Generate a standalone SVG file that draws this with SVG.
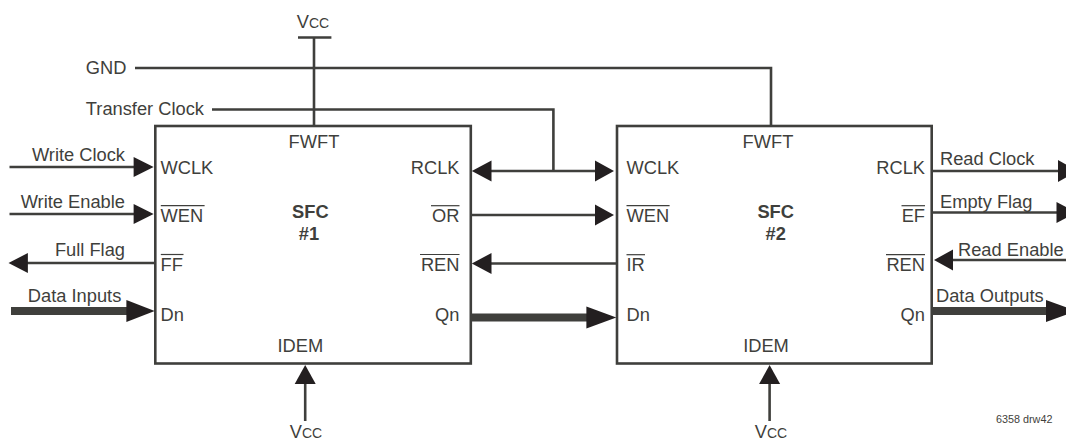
<svg xmlns="http://www.w3.org/2000/svg" width="1066" height="442" viewBox="0 0 1066 442">
<style>
text{font-family:"Liberation Sans",Arial,sans-serif;font-size:18.3px;fill:#3f3f3c}
.m{text-anchor:middle}.e{text-anchor:end}
.b{font-weight:bold}
.s{font-size:14px}
.t{font-size:10.8px}
.box{fill:#fff;stroke:#3f3f3c;stroke-width:2.6}
.w{fill:none;stroke:#3f3f3c;stroke-width:2.6}
.k{fill:none;stroke:#3f3f3c;stroke-width:8}
.o{stroke:#3f3f3c;stroke-width:1.2}
.h{fill:#231f20}
</style>
<g id="node-sfc1">
<rect class="box" x="155.300" y="126" width="315.500" height="237.500"/>
<text class="m" x="314" y="148">FWFT</text>
<text x="160.500" y="174">WCLK</text>
<text x="160.500" y="221.500">WEN</text><line class="o" x1="160.800" y1="205.700" x2="204.600" y2="205.700"/>
<text x="160.500" y="271">FF</text><line class="o" x1="160.800" y1="254.500" x2="183.500" y2="254.500"/>
<text x="160.500" y="321">Dn</text>
<text class="e" x="459.500" y="174">RCLK</text>
<text class="e" x="459.500" y="221.500">OR</text><line class="o" x1="431" y1="205.700" x2="459.500" y2="205.700"/>
<text class="e" x="459.500" y="271">REN</text><line class="o" x1="420" y1="254.500" x2="459.500" y2="254.500"/>
<text class="e" x="459.500" y="321">Qn</text>
<text class="m" x="300.300" y="352">IDEM</text>
<text class="m b" x="310.300" y="218">SFC</text>
<text class="m b" x="309" y="240">#1</text>
</g>
<g id="node-sfc2">
<rect class="box" x="617" y="126" width="314.700" height="237.500"/>
<text class="m" x="768" y="148">FWFT</text>
<text x="626.500" y="174">WCLK</text>
<text x="626.500" y="221.500">WEN</text><line class="o" x1="626.500" y1="205.700" x2="669.600" y2="205.700"/>
<text x="626.500" y="271">IR</text><line class="o" x1="626.500" y1="254.700" x2="645" y2="254.700"/>
<text x="626.500" y="321">Dn</text>
<text class="e" x="925" y="174">RCLK</text>
<text class="e" x="925" y="221.500">EF</text><line class="o" x1="901.500" y1="205.700" x2="925" y2="205.700"/>
<text class="e" x="925" y="271">REN</text><line class="o" x1="886" y1="254.700" x2="925" y2="254.700"/>
<text class="e" x="925" y="321">Qn</text>
<text class="m" x="766" y="352">IDEM</text>
<text class="m b" x="775.700" y="218">SFC</text>
<text class="m b" x="775.700" y="240">#2</text>
</g>
<g id="connectors">
<path class="w" d="M298 37.500H331.400M314 37.500V126"/>
<path class="w" d="M135 68H771V126"/>
<path class="w" d="M212 109.500H553.400V171"/>
<path class="w" d="M9.500 167H138"/>
<path class="h" d="M153.600 167L133.600 157V177Z"/>
<path class="w" d="M9.500 214H138"/>
<path class="h" d="M153.600 214L133.600 204V224Z"/>
<path class="w" d="M24 263H155"/>
<path class="h" d="M8.500 263L27.900 253V273Z"/>
<path class="k" d="M11 311H130"/>
<path class="h" d="M154.700 311L126.400 300V322Z"/>
<path class="w" d="M488 171H599"/>
<path class="h" d="M471.800 171L491.500 160.500V181.500Z"/>
<path class="h" d="M614 171L595 160.500V181.500Z"/>
<path class="w" d="M471 215H599"/>
<path class="h" d="M614 215L595 204.500V225.500Z"/>
<path class="w" d="M488 263.500H617"/>
<path class="h" d="M471.800 263.500L491.500 253V274Z"/>
<path class="k" d="M471 317.500H590"/>
<path class="h" d="M616.300 317.500L586.400 306.500V328.500Z"/>
<path class="w" d="M305.200 380V421"/>
<path class="h" d="M305.200 365L294.700 384H315.700Z"/>
<path class="w" d="M769.600 380V421"/>
<path class="h" d="M769.600 365L759.100 384H780.100Z"/>
<path class="w" d="M931.700 171H1062"/>
<path class="h" d="M1078 171L1058 160V182Z"/>
<path class="w" d="M931.700 212.500H1060"/>
<path class="h" d="M1076 212.500L1056.500 202V223Z"/>
<path class="w" d="M950 260H1066"/>
<path class="h" d="M934 260L953 249.500V270.500Z"/>
<path class="k" d="M931.700 311H1050"/>
<path class="h" d="M1076 311L1046 300V322Z"/>
</g>
<g id="labels">
<text x="296.700" y="28">V<tspan class="s">CC</tspan></text>
<text class="e" x="126.400" y="74">GND</text>
<text class="e" x="204" y="115">Transfer Clock</text>
<text class="e" x="125" y="161">Write Clock</text>
<text class="e" x="125" y="208">Write Enable</text>
<text class="e" x="125" y="256">Full Flag</text>
<text class="e" x="121.300" y="302">Data Inputs</text>
<text class="m" x="306" y="437.500">V<tspan class="s">CC</tspan></text>
<text class="m" x="771" y="437.500">V<tspan class="s">CC</tspan></text>
<text x="940" y="165">Read Clock</text>
<text x="940" y="207.700">Empty Flag</text>
<text x="958" y="255.700">Read Enable</text>
<text x="936" y="302">Data Outputs</text>
<text class="t" x="996" y="423">6358 drw42</text>
</g>
</svg>
